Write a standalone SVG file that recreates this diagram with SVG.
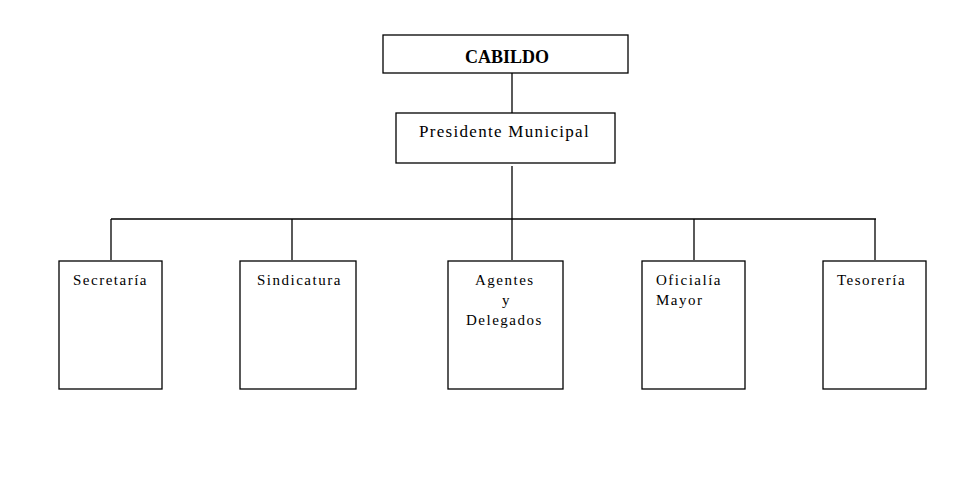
<svg xmlns="http://www.w3.org/2000/svg" width="959" height="479" viewBox="0 0 959 479">
<style>
.box{fill:#fff;stroke:#000;stroke-width:1.3}
.ln{stroke:#000;stroke-width:1.3;fill:none}
.t{font-family:"Liberation Serif","Times New Roman",serif;font-size:15px;letter-spacing:1.5px;fill:#000}
.tp{font-family:"Liberation Serif","Times New Roman",serif;font-size:17px;letter-spacing:1.3px;fill:#000}
.tb{font-family:"Liberation Serif","Times New Roman",serif;font-size:18px;font-weight:bold;fill:#000}
</style>
<rect width="959" height="479" fill="#fff"/>
<g id="connectors">
<line class="ln" x1="512" y1="73" x2="512" y2="113"/>
<line class="ln" x1="512" y1="166" x2="512" y2="219"/>
<line class="ln" x1="111" y1="219" x2="876" y2="219"/>
<line class="ln" x1="111" y1="219" x2="111" y2="260"/>
<line class="ln" x1="292" y1="219" x2="292" y2="260"/>
<line class="ln" x1="512" y1="219" x2="512" y2="260"/>
<line class="ln" x1="694" y1="219" x2="694" y2="260"/>
<line class="ln" x1="875" y1="219" x2="875" y2="260"/>
</g>
<g id="cabildo">
<rect class="box" x="383" y="35" width="245" height="38"/>
<text class="tb" x="507" y="63" text-anchor="middle">CABILDO</text>
</g>
<g id="presidente">
<rect class="box" x="396" y="113" width="219" height="50"/>
<text class="tp" x="419" y="137">Presidente Municipal</text>
</g>
<g id="secretaria">
<rect class="box" x="59" y="261" width="103" height="128"/>
<text class="t" x="73" y="285">Secretaría</text>
</g>
<g id="sindicatura">
<rect class="box" x="240" y="261" width="116" height="128"/>
<text class="t" x="257" y="285">Sindicatura</text>
</g>
<g id="agentes">
<rect class="box" x="448" y="261" width="115" height="128"/>
<text class="t" x="475" y="285">Agentes</text>
<text class="t" x="502" y="305">y</text>
<text class="t" x="466" y="325">Delegados</text>
</g>
<g id="oficialia">
<rect class="box" x="642" y="261" width="103" height="128"/>
<text class="t" x="656" y="285">Oficialía</text>
<text class="t" x="656" y="305">Mayor</text>
</g>
<g id="tesoreria">
<rect class="box" x="823" y="261" width="103" height="128"/>
<text class="t" x="837" y="285">Tesorería</text>
</g>
</svg>
